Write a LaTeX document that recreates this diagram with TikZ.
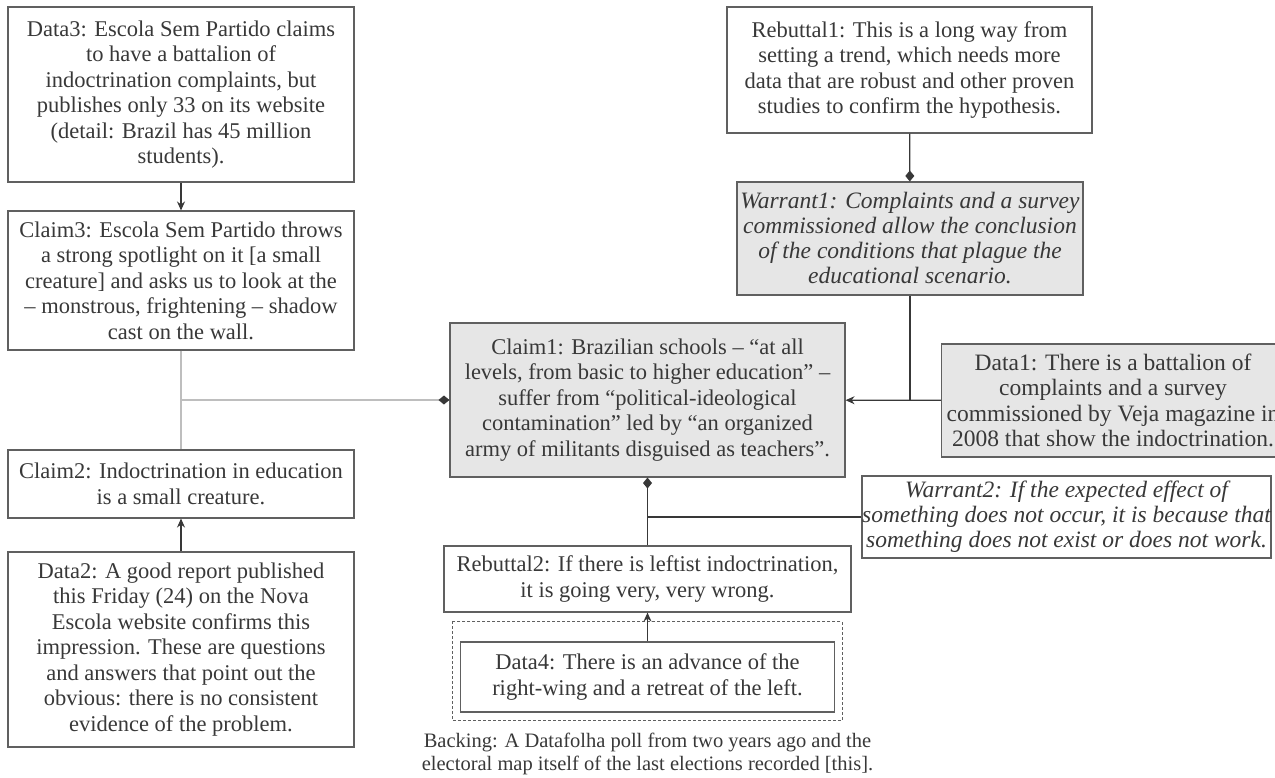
\documentclass[tikz,border=0pt]{standalone}
\usepackage{fontspec}
\setmainfont{Liberation Serif}
\usetikzlibrary{arrows.meta,positioning}
\definecolor{boxline}{HTML}{606060}
\definecolor{boxfill}{HTML}{E6E6E6}
\definecolor{inkgrey}{HTML}{383838}
\definecolor{softline}{HTML}{BEBEBE}
\tikzset{
    arg/.style={
           rectangle,
           draw=boxline, line width=1.1pt,
           text=inkgrey,
           align=center,
           inner sep=0pt,
           font=\fontsize{22.5}{25.5}\selectfont
           },
    shaded/.style={
           arg,
           fill=boxfill
           },
    warrant/.style={
           font=\fontsize{23.5}{25}\selectfont\itshape
           },
    support/.style={
           draw=inkgrey, line width=1.3pt,
           -{Stealth[length=9pt,width=8pt]}
           },
    qualify/.style={
           draw=inkgrey, line width=1.3pt,
           -{Diamond[length=11pt,width=9pt]}
           },
    faint/.style={
           draw=softline, line width=1.3pt
           }
}
\begin{document}
\begin{tikzpicture}[x=1pt, y=-1pt, node distance=1.5cm, on grid]
\useasboundingbox (0,0) rectangle (1275,777);
%% left column
   \node[arg, minimum width=346pt, minimum height=175pt] (data3) at (181,94.5)
      {Data3: Escola Sem Partido claims\\ to have a battalion of\\ indoctrination complaints, but\\ publishes only 33 on its website\\ (detail: Brazil has 45 million\\ students).};
   \node[arg, minimum width=346pt, minimum height=139pt] (claim3) [below=186pt of data3]
      {Claim3: Escola Sem Partido throws\\ a strong spotlight on it [a small\\ creature] and asks us to look at the\\ – monstrous, frightening – shadow\\ cast on the wall.};
   \node[arg, minimum width=346pt, minimum height=68pt] (claim2) [below=203.5pt of claim3]
      {Claim2: Indoctrination in education\\ is a small creature.};
   \node[arg, minimum width=346pt, minimum height=195pt] (data2) [below=165.5pt of claim2]
      {Data2: A good report published\\ this Friday (24) on the Nova\\ Escola website confirms this\\ impression. These are questions\\ and answers that point out the\\ obvious: there is no consistent\\ evidence of the problem.};
%% middle
   \node[shaded, minimum width=395pt, minimum height=154pt] (claim1) at (647.5,400)
      {Claim1: Brazilian schools – “at all\\ levels, from basic to higher education” –\\ suffer from “political-ideological\\ contamination” led by “an organized\\ army of militants disguised as teachers”.};
   \node[arg, minimum width=407pt, minimum height=66pt] (rebuttal2) [below=179pt of claim1]
      {Rebuttal2: If there is leftist indoctrination,\\ it is going very, very wrong.};
   \node[arg, minimum width=374pt, minimum height=70pt] (data4) [below=98pt of rebuttal2]
      {Data4: There is an advance of the\\ right-wing and a retreat of the left.};
   \node[arg, draw=none, font=\fontsize{20.5}{23}\selectfont] (backing) [below=76.5pt of data4]
      {Backing: A Datafolha poll from two years ago and the\\ electoral map itself of the last elections recorded [this].};
   \draw[boxline, line width=0.9pt, dash pattern=on 3pt off 2pt]
      ([shift={(-8,-20)}]data4.north west) rectangle ([shift={(7,8)}]data4.south east);
%% right side
   \node[arg, minimum width=365pt, minimum height=126pt] (rebuttal1) at (909.5,70)
      {Rebuttal1: This is a long way from\\ setting a trend, which needs more\\ data that are robust and other proven\\ studies to confirm the hypothesis.};
   \node[shaded, warrant, minimum width=346pt, minimum height=113pt] (warrant1) at (910,238.5)
      {Warrant1: Complaints and a survey\\ commissioned allow the conclusion\\ of the conditions that plague the\\ educational scenario.};
   \node[shaded, font=\fontsize{23.5}{25.5}\selectfont, minimum width=343pt, minimum height=113pt] (data1) at (1113,400.5)
      {Data1: There is a battalion of\\ complaints and a survey\\ commissioned by Veja magazine in\\ 2008 that show the indoctrination.};
   \node[arg, warrant, minimum width=409pt, minimum height=82pt] (warrant2) at (1066.5,517)
      {Warrant2: If the expected effect of\\ something does not occur, it is because that\\ something does not exist or does not work.};
%% joints
   \coordinate (leftjoin) at (claim3.south |- claim1.west);
   \coordinate (rightjoin) at (warrant1.south |- data1.west);
   \coordinate (lowjoin) at (claim1.south |- warrant2.west);
%% connectors
   \draw[support] (data3) -- (claim3);
   \draw[support] (data2) -- (claim2);
   \draw[faint] (claim3) -- (claim2);
   \draw[faint] (leftjoin) -- (claim1.west);
   \fill[inkgrey] (claim1.west) -- ++(-5.5,-4.5) -- ++(-5.5,4.5) -- ++(5.5,4.5) -- cycle;
   \draw[qualify] (rebuttal1) -- (warrant1);
   \draw[inkgrey, line width=1.3pt] (warrant1) -- (rightjoin);
   \draw[support] (data1) -- (claim1);
   \draw[qualify] (rebuttal2) -- (claim1);
   \draw[inkgrey, line width=1.3pt] (warrant2) -- (lowjoin);
   \draw[support] (data4) -- (rebuttal2);
\end{tikzpicture}
\end{document}
